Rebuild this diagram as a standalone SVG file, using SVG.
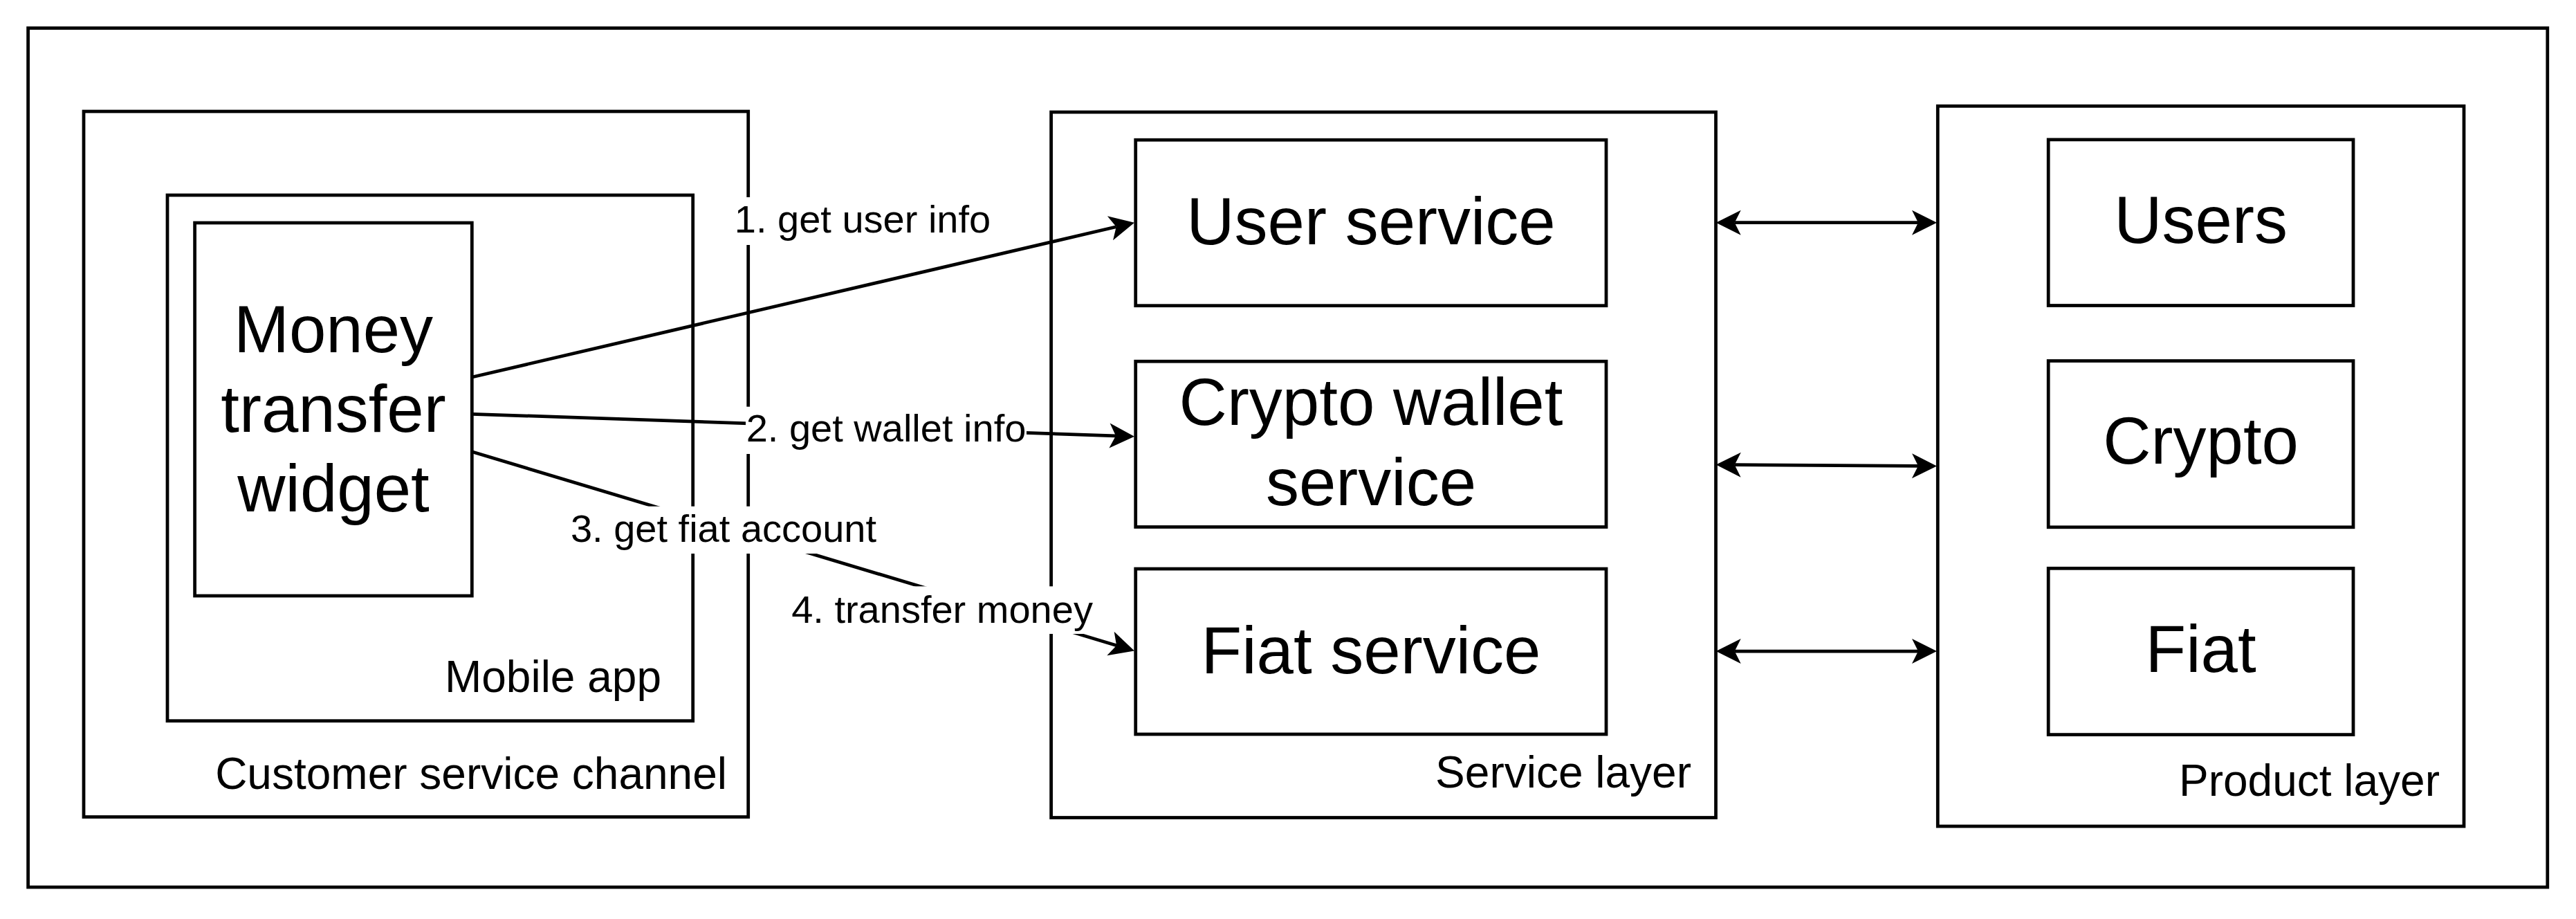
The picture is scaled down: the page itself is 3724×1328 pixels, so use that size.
<svg xmlns="http://www.w3.org/2000/svg" width="3724" height="1328" viewBox="0 0 3724 1328">
  <style>
    .box { fill: #ffffff; stroke: #000000; stroke-width: 4.75; }
    .edge { fill: none; stroke: #000000; stroke-width: 4.75; }
    .node { font-family: "Liberation Sans", Arial, Helvetica, sans-serif; font-size: 96px; fill: #000000; text-anchor: middle; }
    .cont { font-family: "Liberation Sans", Arial, Helvetica, sans-serif; font-size: 64px; fill: #000000; text-anchor: end; }
    .lbl { font-family: "Liberation Sans", Arial, Helvetica, sans-serif; font-size: 56px; fill: #000000; text-anchor: middle; }
    .lblbg { fill: #ffffff; stroke: none; }
  </style>
  <defs>
    <marker id="arr" viewBox="0 0 36 36" refX="9" refY="18" markerWidth="36" markerHeight="36" markerUnits="userSpaceOnUse" orient="auto-start-reverse" overflow="visible">
      <path d="M36,18 L0,0 L9,18 L0,36 Z" fill="#000000"/>
    </marker>
  </defs>
  <rect x="0" y="0" width="3724" height="1328" fill="#ffffff"/>

  <g id="outer-frame">
    <rect class="box" x="40.6" y="40.6" width="3642.2" height="1241.4"/>
  </g>

  <g id="customer-service-channel">
    <rect class="box" x="121" y="161" width="960.7" height="1019.5"/>
    <text class="cont" x="1051" y="1140">Customer service channel</text>
  </g>

  <g id="mobile-app">
    <rect class="box" x="242" y="282" width="759.7" height="759.7"/>
    <text class="cont" x="956" y="1000">Mobile app</text>
  </g>

  <g id="money-transfer-widget">
    <rect class="box" x="281.6" y="322" width="400.7" height="539"/>
    <text class="node" x="482" y="509">Money</text>
    <text class="node" x="482" y="624">transfer</text>
    <text class="node" x="482" y="739">widget</text>
  </g>

  <g id="service-layer">
    <rect class="box" x="1519.6" y="162" width="960.9" height="1019.5"/>
    <text class="cont" x="2445" y="1138">Service layer</text>
  </g>

  <g id="user-service">
    <rect class="box" x="1641.7" y="202.2" width="680.3" height="239.5"/>
    <text class="node" x="1982" y="353">User service</text>
  </g>

  <g id="crypto-wallet-service">
    <rect class="box" x="1641.7" y="522.2" width="680.3" height="239.3"/>
    <text class="node" x="1982" y="614">Crypto wallet</text>
    <text class="node" x="1982" y="729.5">service</text>
  </g>

  <g id="fiat-service">
    <rect class="box" x="1641.7" y="822" width="680.3" height="239"/>
    <text class="node" x="1982" y="973">Fiat service</text>
  </g>

  <g id="product-layer">
    <rect class="box" x="2801.3" y="153.3" width="760.7" height="1040.7"/>
    <text class="cont" x="3527" y="1150">Product layer</text>
  </g>

  <g id="users">
    <rect class="box" x="2961.2" y="201.8" width="440.8" height="239.7"/>
    <text class="node" x="3181.6" y="351">Users</text>
  </g>

  <g id="crypto">
    <rect class="box" x="2961.2" y="521.5" width="440.8" height="240.3"/>
    <text class="node" x="3181.6" y="670">Crypto</text>
  </g>

  <g id="fiat">
    <rect class="box" x="2961.2" y="821.3" width="440.8" height="240.3"/>
    <text class="node" x="3181.6" y="971">Fiat</text>
  </g>

  <g id="connectors">
    <path class="edge" d="M682.3,545 L1613.7,327.8" marker-end="url(#arr)"/>
    <path class="edge" d="M682.3,598.3 L1613,629.8" marker-end="url(#arr)"/>
    <path class="edge" d="M682.3,652.7 L1614.1,932.7" marker-end="url(#arr)"/>
    <path class="edge" d="M2507.7,321.7 L2773,321.7" marker-start="url(#arr)" marker-end="url(#arr)"/>
    <path class="edge" d="M2507.7,671.7 L2773,673.3" marker-start="url(#arr)" marker-end="url(#arr)"/>
    <path class="edge" d="M2507.7,941 L2773,941" marker-start="url(#arr)" marker-end="url(#arr)"/>

    <g id="label-1">
      <rect class="lblbg" x="1058" y="285" width="378" height="69"/>
      <text class="lbl" x="1247" y="336">1. get user info</text>
    </g>
    <g id="label-2">
      <rect class="lblbg" x="1078" y="587.7" width="406" height="68.3"/>
      <text class="lbl" x="1281" y="638.3">2. get wallet info</text>
    </g>
    <g id="label-3">
      <rect class="lblbg" x="823" y="731.7" width="446" height="68.3"/>
      <text class="lbl" x="1046" y="783.3">3. get fiat account</text>
    </g>
    <g id="label-4">
      <rect class="lblbg" x="1143" y="847.3" width="438" height="68.7"/>
      <text class="lbl" x="1362" y="900">4. transfer money</text>
    </g>
  </g>
</svg>
